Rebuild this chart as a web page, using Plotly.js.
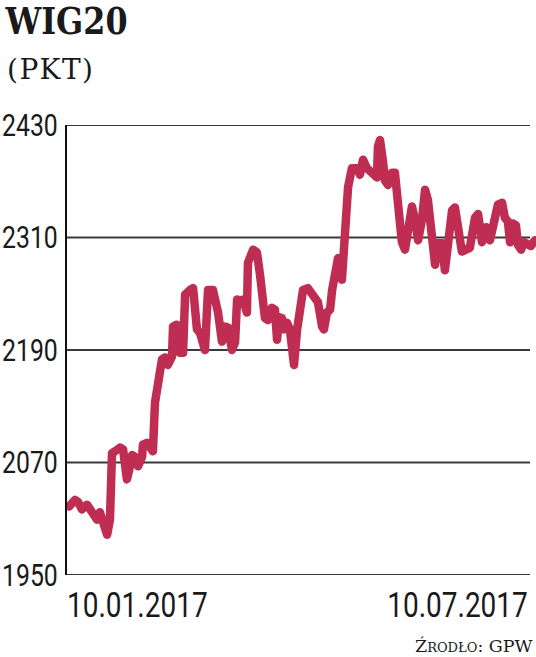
<!DOCTYPE html>
<html>
<head>
<meta charset="utf-8">
<script src="https://cdn.plot.ly/plotly-3.0.1.min.js"></script>
<style>
html,body{margin:0;padding:0;background:#fff;}
#chart{width:536px;height:657px;}
.scatterlayer path.js-line{stroke-linejoin:round !important;stroke-linecap:round !important;}
</style>
</head>
<body>
<div id="chart"></div>
<script>
// Days since 10.01.2017
const days = [0,2.3,3.5,5.0,7.0,8.9,10.1,10.9,12.0,13.2,14.8,15.9,16.7,17.9,19.8,21.0,21.8,22.5,23.7,24.5,25.6,26.8,28.4,28.7,30.3,31.5,32.6,33.4,34.6,36.1,37.3,38.4,40.0,40.4,41.9,42.3,43.1,44.3,45.1,47.0,48.2,49.7,50.9,52.8,54.0,55.9,57.9,59.4,60.6,61.8,63.3,64.5,65.3,66.4,67.6,69.1,69.5,71.5,73.0,74.2,75.4,76.1,77.3,78.8,80.0,80.8,81.6,82.7,83.5,84.7,85.8,86.6,87.4,88.6,89.7,90.9,92.8,94.8,96.7,98.3,99.0,100.2,101.4,102.2,103.3,104.5,106.0,106.4,107.2,108.4,109.9,111.9,113.0,114.2,115.7,116.9,118.1,119.6,120.0,120.8,122.0,122.7,123.9,125.5,126.6,127.8,129.3,130.5,131.7,133.2,134.4,135.6,137.1,138.3,139.4,141.0,142.2,143.3,144.9,146.0,147.2,148.8,149.9,151.5,152.6,154.2,155.7,157.7,158.9,160.4,162.0,163.5,164.7,166.6,168.2,169.3,170.5,171.3,172.5,173.6,174.4,175.6,176.7,178.3,179.4,181.0];

// WIG20 index values (points)
const wig20 = [2023,2030,2028,2020,2025,2018,2012,2009,2017,2009,1993,2009,2080,2082,2086,2084,2054,2052,2066,2078,2076,2066,2076,2089,2091,2084,2082,2134,2158,2180,2182,2174,2183,2215,2217,2204,2187,2187,2249,2254,2256,2212,2208,2190,2254,2254,2230,2199,2215,2214,2190,2198,2244,2241,2244,2230,2283,2297,2294,2270,2247,2224,2222,2235,2233,2201,2225,2224,2212,2219,2212,2176,2174,2212,2240,2254,2256,2247,2241,2215,2212,2230,2233,2254,2275,2288,2265,2279,2318,2364,2384,2384,2377,2393,2384,2380,2377,2374,2407,2414,2390,2371,2366,2379,2379,2347,2305,2297,2315,2343,2329,2307,2329,2361,2350,2297,2281,2304,2304,2275,2297,2339,2342,2318,2295,2297,2299,2331,2335,2305,2321,2307,2321,2345,2347,2331,2327,2305,2325,2323,2302,2297,2305,2302,2301,2307];

const yTicks = [1950, 2070, 2190, 2310, 2430];
const xLabels = ["10.01.2017", "10.07.2017"];
const titleText = "WIG20";
const unitText = "(PKT)";
const sourceText = "Ź<span style='font-size:13px'>RODŁO</span>: GPW";

const numFont = "Roboto, Liberation Sans, sans-serif";
const serifFont = "DejaVu Serif, Liberation Serif, serif";

const gridEnd = 463/469;
const shapes = yTicks.map(v => ({
  type: 'line', xref: 'paper', yref: 'y',
  x0: 0, x1: gridEnd, y0: v, y1: v,
  line: {color: '#3a3a3a', width: 2},
  layer: 'below'
}));

const trace = {
  x: days, y: wig20, type: 'scatter', mode: 'lines',
  line: {color: '#bf2e52', width: 8.5, shape: 'linear'},
  hoverinfo: 'skip'
};

const layout = {
  width: 536, height: 657,
  margin: {l: 67, r: 0, t: 125, b: 82, pad: 0},
  paper_bgcolor: '#fff', plot_bgcolor: '#fff',
  showlegend: false,
  xaxis: {
    range: [-0.78, 181.39], showgrid: false, zeroline: false,
    showticklabels: false, ticks: '', showline: false, fixedrange: true
  },
  yaxis: {
    range: [1950, 2430], tickvals: yTicks, ticktext: yTicks.map(String),
    showgrid: false, zeroline: false, ticks: '',
    showline: true, linecolor: '#111', linewidth: 2,
    tickfont: {family: numFont, size: 31, color: '#1a1a1a'},
    ticklabelstandoff: 1, fixedrange: true
  },
  shapes: shapes,
  annotations: [
    {text: titleText, xref: 'paper', yref: 'paper', x: -0.0011, y: 1.283,
     xanchor: 'center', yanchor: 'top', showarrow: false, borderpad: 0, width: 126,
     font: {family: serifFont, size: 37, color: '#1a1a1a', weight: 'bold'}},
    {text: unitText, xref: 'paper', yref: 'paper', x: -0.0362, y: 1.163,
     xanchor: 'center', yanchor: 'top', showarrow: false, borderpad: 0, width: 94,
     font: {family: serifFont, size: 28, color: '#1a1a1a'}},
    {text: xLabels[0], xref: 'paper', yref: 'paper', x: -0.002, y: -0.02,
     xanchor: 'left', align: 'left', yanchor: 'top', showarrow: false, borderpad: 0,
     font: {family: numFont, size: 35, color: '#1a1a1a'}},
    {text: xLabels[1], xref: 'paper', yref: 'paper', x: 0.985, y: -0.02,
     xanchor: 'right', align: 'right', yanchor: 'top', showarrow: false, borderpad: 0,
     font: {family: numFont, size: 35, color: '#1a1a1a'}},
    {text: sourceText, xref: 'paper', yref: 'paper', x: 0.9957, y: -0.182,
     xanchor: 'right', yanchor: 'bottom', showarrow: false, borderpad: 0,
     font: {family: serifFont, size: 17.5, color: '#1a1a1a'}}
  ]
};

Plotly.newPlot('chart', [trace], layout, {displayModeBar: false, staticPlot: true}).then(() => {
  const squeeze = (el, f, adj) => {
    if (!el) return;
    const w = el.getComputedTextLength();
    el.setAttribute('textLength', (w * f).toFixed(1));
    el.setAttribute('lengthAdjust', adj || 'spacingAndGlyphs');
  };
  const narrow = (el, f) => {
    if (!el) return;
    const ax = parseFloat(el.getAttribute('x')) || 0;
    const prev = el.getAttribute('transform') || '';
    el.setAttribute('transform', prev + ` translate(${ax},0) scale(${f},1) translate(${-ax},0)`);
  };
  document.querySelectorAll('.ytick text').forEach(t => squeeze(t, 0.8));
  const ann = document.querySelectorAll('.annotation-text');
  squeeze(ann[0], 0.86);
  squeeze(ann[1], 1.07, 'spacing');
  narrow(ann[2], 0.80);
  narrow(ann[3], 0.80);
});
</script>
</body>
</html>
